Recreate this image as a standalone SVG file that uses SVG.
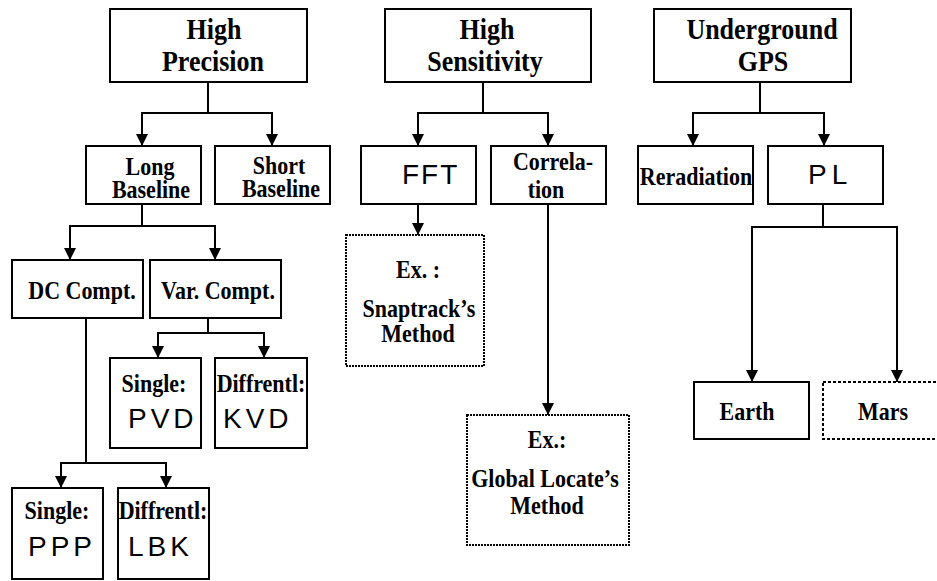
<svg xmlns="http://www.w3.org/2000/svg" width="937" height="581" viewBox="0 0 937 581">
<style>
.box{fill:#fff;stroke:#000;stroke-width:2}
.dot{fill:#fff;stroke:#000;stroke-width:2;stroke-dasharray:2 1}
.dash{fill:#fff;stroke:#000;stroke-width:2;stroke-dasharray:3 2}
.t{font-family:"Liberation Serif","Times New Roman",serif;font-weight:bold;font-size:22px;text-anchor:middle;fill:#000;transform-box:fill-box;transform-origin:center bottom;transform:scaleY(1.1)}
.h{font-size:26px}
.s{font-family:"Liberation Sans",Arial,sans-serif;font-size:28px;fill:#000}
.c{fill:none;stroke:#000;stroke-width:2}
</style>
<defs>
<marker id="ah" markerUnits="userSpaceOnUse" markerWidth="12" markerHeight="12" refX="12" refY="6" orient="auto">
<path d="M0,0 L12,6 L0,12 z" fill="#000"/>
</marker>
</defs>
<rect width="937" height="581" fill="#fff"/>
<g id="connectors">
<path class="c" d="M208,82 V113 H142 V146" marker-end="url(#ah)"/>
<path class="c" d="M208,82 V113 H272 V146" marker-end="url(#ah)"/>
<path class="c" d="M483,82 V113 H418 V146" marker-end="url(#ah)"/>
<path class="c" d="M483,82 V113 H548 V146" marker-end="url(#ah)"/>
<path class="c" d="M760,82 V113 H693 V146" marker-end="url(#ah)"/>
<path class="c" d="M760,82 V113 H824 V146" marker-end="url(#ah)"/>
<path class="c" d="M142,204 V226 H70 V260" marker-end="url(#ah)"/>
<path class="c" d="M142,204 V226 H215 V260" marker-end="url(#ah)"/>
<path class="c" d="M208,318 V333 H158 V358" marker-end="url(#ah)"/>
<path class="c" d="M208,318 V333 H264 V358" marker-end="url(#ah)"/>
<path class="c" d="M86,318 V463 H61 V488" marker-end="url(#ah)"/>
<path class="c" d="M86,318 V463 H166 V488" marker-end="url(#ah)"/>
<path class="c" d="M418,204 V235" marker-end="url(#ah)"/>
<path class="c" d="M548,204 V415" marker-end="url(#ah)"/>
<path class="c" d="M823,204 V227 H752 V382" marker-end="url(#ah)"/>
<path class="c" d="M823,204 V227 H897 V382" marker-end="url(#ah)"/>
</g>
<g id="high-precision">
<rect class="box" x="110" y="9" width="197" height="73"/>
<text class="t h" x="214" y="40">High</text>
<text class="t h" x="213" y="72">Precision</text>
</g>
<g id="high-sensitivity">
<rect class="box" x="385" y="9" width="206" height="73"/>
<text class="t h" x="487" y="40">High</text>
<text class="t h" x="485" y="72">Sensitivity</text>
</g>
<g id="underground-gps">
<rect class="box" x="654" y="9" width="197" height="73"/>
<text class="t h" x="762" y="40">Underground</text>
<text class="t h" x="763" y="72">GPS</text>
</g>
<g id="long-baseline">
<rect class="box" x="86" y="146" width="115" height="58"/>
<text class="t" x="150" y="175">Long</text>
<text class="t" x="151" y="198">Baseline</text>
</g>
<g id="short-baseline">
<rect class="box" x="215" y="146" width="115" height="58"/>
<text class="t" x="279" y="174">Short</text>
<text class="t" x="281" y="197">Baseline</text>
</g>
<g id="fft">
<rect class="box" x="361" y="146" width="115" height="58"/>
<text class="s" x="402" y="184" letter-spacing="2">FFT</text>
</g>
<g id="correlation">
<rect class="box" x="491" y="146" width="115" height="58"/>
<text class="t" x="553" y="170">Correla-</text>
<text class="t" x="546" y="198">tion</text>
</g>
<g id="reradiation">
<rect class="box" x="638" y="146" width="115" height="58"/>
<text class="t" x="696" y="185">Reradiation</text>
</g>
<g id="pl">
<rect class="box" x="768" y="146" width="115" height="58"/>
<text class="s" x="808" y="184" letter-spacing="5">PL</text>
</g>
<g id="dc-compt">
<rect class="box" x="12" y="260" width="131" height="58"/>
<text class="t" x="82" y="299">DC Compt.</text>
</g>
<g id="var-compt">
<rect class="box" x="150" y="260" width="131" height="58"/>
<text class="t" x="218" y="299">Var. Compt.</text>
</g>
<g id="single-pvd">
<rect class="box" x="110" y="358" width="91" height="90"/>
<text class="t" x="154" y="392">Single:</text>
<text class="s" x="128" y="428" letter-spacing="4">PVD</text>
</g>
<g id="diff-kvd">
<rect class="box" x="215" y="358" width="92" height="90"/>
<text class="t" x="261" y="392">Diffrentl:</text>
<text class="s" x="223" y="428" letter-spacing="4">KVD</text>
</g>
<g id="single-ppp">
<rect class="box" x="12" y="488" width="91" height="91"/>
<text class="t" x="57" y="519">Single:</text>
<text class="s" x="28" y="556" letter-spacing="4">PPP</text>
</g>
<g id="diff-lbk">
<rect class="box" x="118" y="488" width="91" height="91"/>
<text class="t" x="163" y="519">Diffrentl:</text>
<text class="s" x="128" y="556" letter-spacing="4">LBK</text>
</g>
<g id="snaptrack">
<rect class="dot" x="346" y="235" width="138" height="131"/>
<text class="t" x="418" y="278">Ex. :</text>
<text class="t" x="419" y="317">Snaptrack’s</text>
<text class="t" x="418" y="342">Method</text>
</g>
<g id="global-locate">
<rect class="dot" x="467" y="415" width="162" height="130"/>
<text class="t" x="547" y="448">Ex.:</text>
<text class="t" x="545" y="487">Global Locate’s</text>
<text class="t" x="547" y="514">Method</text>
</g>
<g id="earth">
<rect class="box" x="694" y="382" width="115" height="57"/>
<text class="t" x="747" y="420">Earth</text>
</g>
<g id="mars">
<rect class="dash" x="823" y="382" width="120" height="57"/>
<text class="t" x="883" y="420">Mars</text>
</g>
</svg>
